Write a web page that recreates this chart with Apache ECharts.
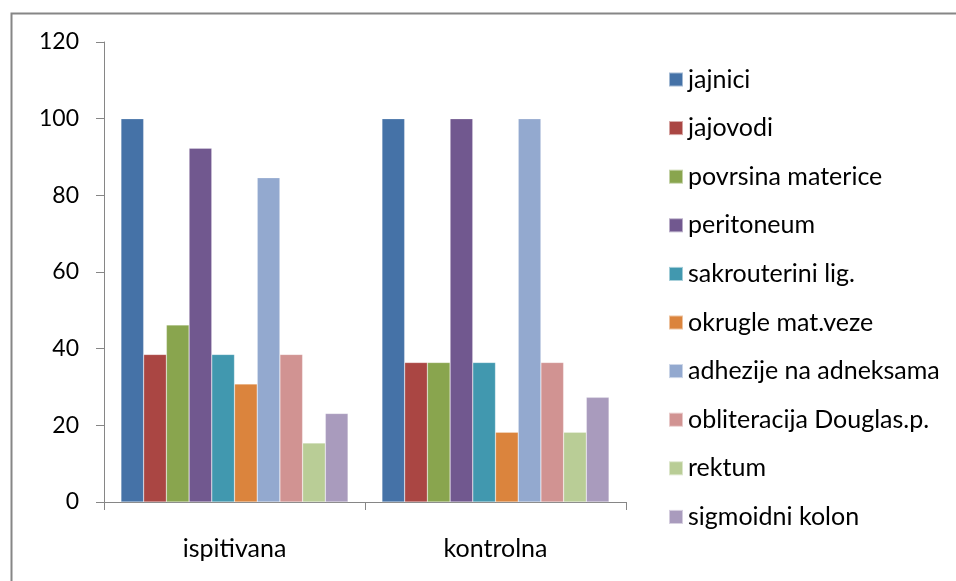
<!DOCTYPE html>
<html>
<head>
<meta charset="utf-8">
<script src="https://cdn.jsdelivr.net/npm/echarts@6/dist/echarts.min.js"></script>
<style>
html,body{margin:0;padding:0;background:#fff;}
#c{width:956px;height:581px;}
</style>
</head>
<body>
<div id="c"></div>
<script>
const categories = ['ispitivana', 'kontrolna'];
const seriesNames = ['jajnici', 'jajovodi', 'povrsina materice', 'peritoneum', 'sakrouterini lig.', 'okrugle mat.veze', 'adhezije na adneksama', 'obliteracija Douglas.p.', 'rektum', 'sigmoidni kolon'];
const jajnici = [100, 100];
const jajovodi = [38.5, 36.4];
const povrsina = [46.2, 36.4];
const peritoneum = [92.3, 100];
const sakrouterini = [38.5, 36.4];
const okrugle = [30.8, 18.2];
const adhezije = [84.6, 100];
const obliteracija = [38.5, 36.4];
const rektum = [15.4, 18.2];
const sigmoidni = [23.1, 27.3];
const seriesValues = [jajnici, jajovodi, povrsina, peritoneum, sakrouterini, okrugle, adhezije, obliteracija, rektum, sigmoidni];
const colors = ['#4572A7', '#AA4643', '#89A54E', '#71588F', '#4198AF', '#DB843D', '#93A9CF', '#D19392', '#B9CD96', '#A99BBD'];
const yTicks = [0, 20, 40, 60, 80, 100, 120];

const font = 'Lato, "Open Sans", sans-serif';
const chart = echarts.init(document.getElementById('c'), null, {renderer: 'canvas'});
chart.setOption({
  animation: false,
  color: colors,
  graphic: [{
    type: 'rect', left: 9, top: 11, silent: true,
    shape: {x: 0, y: 0, width: 1000, height: 700},
    style: {fill: 'none', stroke: '#868686', lineWidth: 2}
  }],
  grid: {left: 104, top: 42, right: 330, bottom: 79, containLabel: false},
  legend: {
    orient: 'vertical', left: 668, top: 67, padding: 0,
    itemWidth: 14, itemHeight: 14, itemGap: 23.6,
    icon: 'rect',
    textStyle: {fontFamily: font, fontSize: 25, color: '#000'},
    data: seriesNames
  },
  xAxis: {
    type: 'category', data: categories,
    axisLine: {lineStyle: {color: '#868686', width: 1}},
    axisTick: {show: true, length: 8, lineStyle: {color: '#868686'}},
    axisLabel: {fontFamily: font, fontSize: 25, color: '#000', margin: 34}
  },
  yAxis: {
    type: 'value', min: 0, max: 120, interval: 20,
    axisLine: {show: true, lineStyle: {color: '#868686', width: 1}},
    axisTick: {show: true, length: 8, lineStyle: {color: '#868686'}},
    splitLine: {show: false},
    axisLabel: {fontFamily: font, fontSize: 23, color: '#000', margin: 25,
      formatter: v => yTicks.includes(v) ? String(v) : ''}
  },
  series: seriesNames.map((n, i) => ({
    name: n, type: 'bar', data: seriesValues[i],
    barGap: '0%', barCategoryGap: '13%',
    itemStyle: {borderColor: 'rgba(255,255,255,0.5)', borderWidth: 0.5}
  }))
});
</script>
</body>
</html>
